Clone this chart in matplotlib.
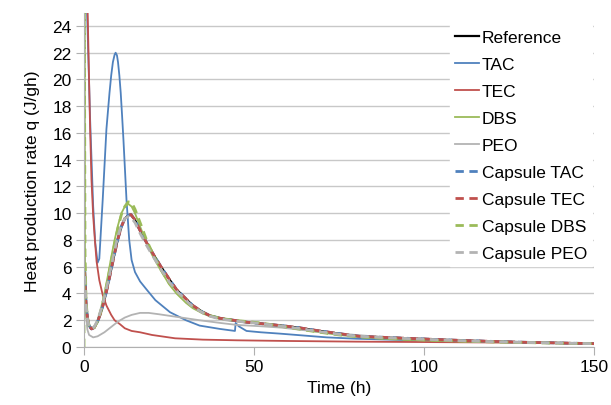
import matplotlib
matplotlib.use("Agg")
import matplotlib.pyplot as plt

plt.rcParams['font.family'] = ['Liberation Sans', 'DejaVu Sans']

# time (h) and heat production rate q (J/gh)
t_ref = [0.2, 0.6, 1, 1.5, 2.2, 3, 4, 5, 6, 7, 8, 9, 10, 11, 12, 13, 13.8, 15, 16.5, 18.4,
         20, 22.4, 25, 27.2, 30, 32, 35, 37, 40, 44, 48, 52, 58, 63, 68, 75, 81, 90,
         100, 110, 120, 130, 140, 150]
q_ref = [5.5, 3.2, 2.2, 1.6, 1.35, 1.45, 1.9, 2.6, 3.5, 4.6, 5.8, 7.0, 8.1, 9.0, 9.6, 9.85, 9.9, 9.5, 8.7, 7.8,
         7.1, 6.1, 5.1, 4.3, 3.6, 3.1, 2.6, 2.35, 2.15, 2.0, 1.85, 1.75, 1.6, 1.45, 1.25, 1.0, 0.8, 0.7,
         0.6, 0.5, 0.42, 0.35, 0.3, 0.25]
q_cap_tac = [5.8, 3.3, 2.2, 1.6, 1.35, 1.45, 1.9, 2.6, 3.5, 4.6, 5.8, 7.0, 8.1, 9.0, 9.6, 9.85, 9.9, 9.5, 8.7, 7.8,
             7.1, 6.1, 5.1, 4.3, 3.6, 3.1, 2.6, 2.35, 2.15, 2.0, 1.85, 1.75, 1.6, 1.45, 1.25, 1.0, 0.8, 0.7,
             0.6, 0.5, 0.42, 0.35, 0.3, 0.25]
q_cap_tec = [5.6, 3.2, 2.2, 1.6, 1.35, 1.45, 1.9, 2.6, 3.5, 4.6, 5.8, 7.0, 8.1, 9.0, 9.6, 9.85, 9.9, 9.5, 8.7, 7.8,
             7.1, 6.1, 5.1, 4.3, 3.6, 3.1, 2.6, 2.35, 2.15, 2.0, 1.85, 1.75, 1.6, 1.45, 1.25, 1.0, 0.8, 0.7,
             0.6, 0.5, 0.42, 0.35, 0.3, 0.25]
q_cap_peo = [5.3, 3.1, 2.1, 1.55, 1.35, 1.5, 2.0, 2.8, 3.7, 4.8, 6.0, 7.2, 8.3, 9.1, 9.6, 9.75, 9.7, 9.3, 8.5, 7.6,
             6.9, 5.9, 4.9, 4.2, 3.5, 3.0, 2.55, 2.3, 2.1, 1.95, 1.85, 1.75, 1.55, 1.4, 1.2, 0.95, 0.8, 0.68,
             0.58, 0.48, 0.4, 0.34, 0.29, 0.25]

t_tac = [0.8, 1.8, 2.7, 3.3, 4.0, 4.5, 5.5, 6.6, 7.5, 8.0, 8.5, 9.0, 9.3, 9.7, 10.0, 10.4, 10.8, 11.2, 11.6,
         12.5, 13.3, 14, 15, 16.5, 18.4, 21, 25.3, 30, 34, 40, 44.4, 44.6, 45.5, 47.8, 52, 57.6, 65, 71.4,
         80, 90, 100, 115, 130, 150]
q_tac = [26, 17, 10.5, 7.8, 6.3, 6.6, 11, 16.3, 19, 20.3, 21.3, 21.85, 22, 21.8, 21.3, 20.3, 19.0, 17.3, 15.5,
         11, 8.0, 6.5, 5.6, 4.9, 4.3, 3.5, 2.6, 2.0, 1.6, 1.35, 1.2, 1.8, 1.55, 1.2, 1.1, 1.0, 0.85, 0.72,
         0.62, 0.55, 0.48, 0.4, 0.33, 0.25]

t_tec = [1.0, 1.4, 1.8, 2.2, 2.7, 3.2, 3.7, 4.5, 5.5, 6.6, 8, 9, 10.6, 12, 14, 16.5, 20, 26.8,
         35, 45, 60, 80, 100, 125, 150]
q_tec = [26, 21, 16.3, 12.5, 9.8, 8.0, 6.4, 5.0, 3.9, 3.1, 2.4, 2.0, 1.7, 1.4, 1.2, 1.1, 0.9, 0.65,
         0.55, 0.5, 0.45, 0.4, 0.37, 0.33, 0.3]

t_dbs = [0, 0.2, 0.5, 1, 1.5, 2.2, 3, 4, 5, 6, 7, 8, 9, 10, 11, 12, 13, 14, 15, 16.5, 18.4,
         20, 22.4, 25, 27.2, 30, 32, 35, 37, 40, 44, 48, 52, 58, 63, 68, 75, 81, 90,
         100, 110, 120, 130, 140, 150]
q_dbs = [26, 8, 4, 2.2, 1.6, 1.4, 1.5, 2.0, 2.9, 4.0, 5.3, 6.7, 8.0, 9.1, 10.0, 10.5, 10.7, 10.5, 10.0, 9.0, 7.8,
         6.9, 5.8, 4.7, 4.0, 3.3, 2.9, 2.5, 2.3, 2.1, 1.95, 1.85, 1.75, 1.5, 1.35, 1.15, 0.9, 0.75, 0.6,
         0.5, 0.42, 0.36, 0.32, 0.28, 0.25]

t_cap_dbs = [0, 0.1, 0.3, 0.6, 1, 1.5, 2.2, 3, 4, 5, 6, 7, 8, 9, 10, 11, 12, 13, 14, 15, 16.5, 18.4,
             20, 22.4, 25, 27.2, 30, 32, 35, 37, 40, 44, 48, 52, 58, 63, 68, 75, 81, 90,
             100, 110, 120, 130, 140, 150]
q_cap_dbs = [0, 26, 7, 3.5, 2.2, 1.6, 1.35, 1.45, 1.9, 2.7, 3.8, 5.0, 6.4, 7.7, 8.9, 9.9, 10.5, 10.85, 10.8, 10.3, 9.3, 8.0,
             7.1, 5.9, 4.8, 4.1, 3.4, 3.0, 2.55, 2.35, 2.15, 2.0, 1.9, 1.8, 1.55, 1.35, 1.15, 0.9, 0.75, 0.62,
             0.52, 0.45, 0.38, 0.33, 0.28, 0.25]

t_peo = [0, 0.2, 0.5, 1, 1.5, 2.7, 4, 6, 8, 10, 12, 14, 16.5, 19, 22, 26, 30, 34, 40, 45, 52,
         58, 65, 75, 85, 100, 115, 130, 150]
q_peo = [26, 6, 2.5, 1.3, 0.9, 0.72, 0.8, 1.1, 1.5, 1.9, 2.2, 2.4, 2.55, 2.55, 2.45, 2.3, 2.15, 2.0, 1.8, 1.65, 1.55,
         1.45, 1.25, 1.0, 0.8, 0.6, 0.45, 0.35, 0.25]

blue = '#4F81BD'
red = '#C0504D'
green = '#9BBB59'
gray = '#B3B3B3'

fig = plt.figure(figsize=(6.11, 4.06), dpi=100)
ax = fig.add_axes([84 / 611, 58 / 406, 510 / 611, 334.4 / 406])

dash = (0, (3, 2))
ax.plot(t_ref, q_ref, color='black', lw=1.6, label='Reference')
ax.plot(t_tac, q_tac, color=blue, lw=1.3, label='TAC')
ax.plot(t_tec, q_tec, color=red, lw=1.3, label='TEC')
ax.plot(t_dbs, q_dbs, color=green, lw=1.3, label='DBS')
ax.plot(t_peo, q_peo, color=gray, lw=1.3, label='PEO')
ax.plot(t_ref, q_cap_tac, color=blue, lw=2.0, ls=dash, label='Capsule TAC')
ax.plot(t_ref, q_cap_tec, color=red, lw=2.0, ls=dash, label='Capsule TEC')
ax.plot(t_cap_dbs, q_cap_dbs, color=green, lw=2.0, ls=dash, label='Capsule DBS')
ax.plot(t_ref, q_cap_peo, color=gray, lw=2.0, ls=dash, label='Capsule PEO')

ax.set_xlim(0, 150)
ax.set_ylim(0, 25)
ax.set_xticks([0, 50, 100, 150])
ax.set_yticks(range(0, 25, 2))
ax.yaxis.grid(True, color='#C8C8C8', lw=1)
ax.set_axisbelow(True)
for s in ['top', 'right']:
    ax.spines[s].set_visible(False)
for s in ['left', 'bottom']:
    ax.spines[s].set_color('#B0B0B0')
ax.tick_params(axis='both', direction='out', length=6, color='#B0B0B0', labelsize=12.5, pad=3)
ax.set_xlabel('Time (h)', fontsize=12.5, labelpad=4)
ax.set_ylabel('Heat production rate q (J/gh)', fontsize=12.5, labelpad=9)

leg = ax.legend(loc='upper left', bbox_to_anchor=(0.7, 0.99), fontsize=12.5, frameon=True,
                facecolor='white', edgecolor='white', framealpha=1, fancybox=False,
                handlelength=1.4, handletextpad=0.15, labelspacing=0.68, borderpad=0.3)

fig.savefig('out.png', dpi=100)
